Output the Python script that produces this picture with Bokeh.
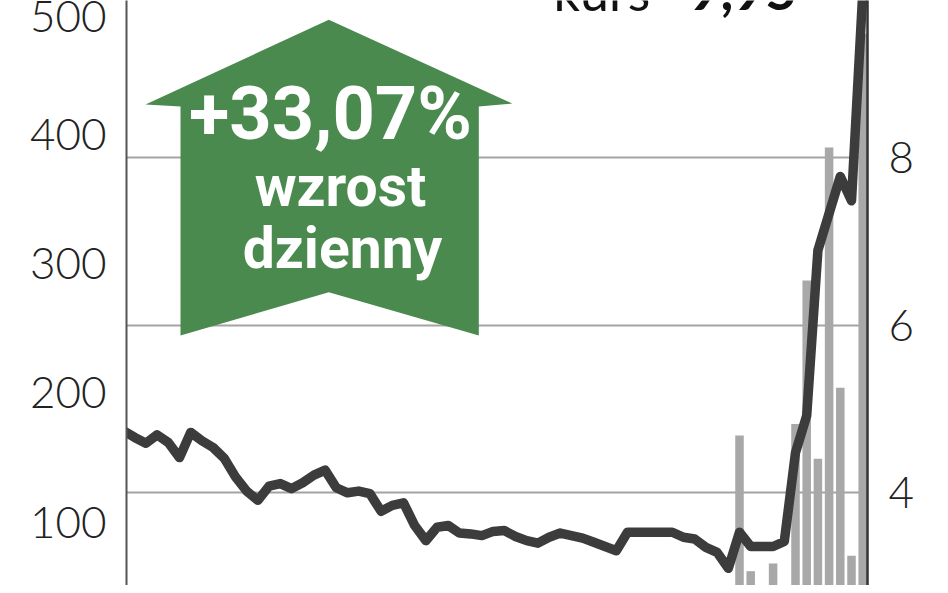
from bokeh.plotting import figure
from bokeh.models import Range1d, LinearAxis, FixedTicker, Label, ColumnDataSource
from bokeh.embed import file_html
from bokeh.resources import INLINE

# ---------------- data ----------------
days = list(range(67))
price = [4.74, 4.66, 4.59, 4.69, 4.60, 4.42, 4.72, 4.62, 4.54, 4.41,
         4.19, 4.02, 3.91, 4.08, 4.11, 4.05, 4.12, 4.21, 4.27, 4.06,
         4.00, 4.02, 3.99, 3.78, 3.85, 3.88, 3.61, 3.43, 3.59, 3.61,
         3.52, 3.51, 3.49, 3.54, 3.55, 3.48, 3.43, 3.40, 3.47, 3.52,
         3.49, 3.46, 3.41, 3.36, 3.31, 3.53, 3.53, 3.53, 3.53, 3.53,
         3.47, 3.45, 3.35, 3.29, 3.10, 3.53, 3.36, 3.36, 3.36, 3.42,
         4.48, 4.92, 6.89, 7.33, 7.77, 7.48, 9.95]
vol_days = [55, 56, 57, 58, 59, 60, 61, 62, 63, 64, 65, 66]
volume = [167, 62, 30, 68, 30, 176, 287, 149, 390, 204, 74, 478]
left_ticks = [100, 200, 300, 400, 500]
right_ticks = [4, 6, 8, 10]
change_text = "+33,07%"
change_words = ["wzrost", "dzienny"]
kurs_word = "kurs"
kurs_value = "9,95"

# ---------------- layout helpers (pixel -> data) ----------------
X0_PX, DAY_PX = 123.0, 11.2
VOL0_PX, VOL_PX = 650.8, 1.292
P8_PX, P_PX = 156.7, 83.9
W, H = 940, 585
FRAME_L, FRAME_R = 126, 867
AXIS_FONT = "Lato Light, Lato"


def dx(px):
    return (px - X0_PX) / DAY_PX


def dv(py):
    return (VOL0_PX - py) / VOL_PX


def dp(py):
    return 8 - (py - P8_PX) / P_PX


BASE_SHIFT = 0.34  # label baseline correction, in em


p = figure(width=W, height=H, output_backend="svg", toolbar_location=None,
           x_axis_location=None, y_axis_location="right",
           x_range=Range1d(dx(FRAME_L), dx(FRAME_R)),
           y_range=Range1d(dp(H), dp(0)),
           min_border_left=FRAME_L, min_border_right=W - FRAME_R,
           min_border_top=0, min_border_bottom=0,
           background_fill_color="white", border_fill_color="white")
p.outline_line_color = None
p.extra_y_ranges = {"vol": Range1d(dv(H), dv(0))}

# grid (tied to the right/price axis)
p.xgrid.visible = False
p.ygrid.ticker = FixedTicker(ticks=right_ticks)
p.ygrid.grid_line_color = "#a3a3a3"
p.ygrid.grid_line_width = 2

# right axis (price)
ra = p.yaxis[0]
ra.ticker = FixedTicker(ticks=right_ticks)
ra.axis_line_color = "#333333"
ra.axis_line_width = 2.5
ra.major_tick_line_color = None
ra.minor_tick_line_color = None
ra.major_label_standoff = 15
ra.major_label_text_font = AXIS_FONT
ra.major_label_text_font_size = "44px"
ra.major_label_text_color = "#222222"

# left axis (volume)
la = LinearAxis(y_range_name="vol", ticker=FixedTicker(ticks=left_ticks))
la.axis_line_color = "#555555"
la.axis_line_width = 2
la.major_tick_line_color = None
la.minor_tick_line_color = None
la.major_label_standoff = 14
la.major_label_text_font = AXIS_FONT
la.major_label_text_font_size = "44px"
la.major_label_text_color = "#222222"
p.add_layout(la, "left")

# volume bars
vsrc = ColumnDataSource(dict(x=vol_days, top=volume))
p.vbar(x="x", top="top", bottom=0, width=0.76, source=vsrc,
       y_range_name="vol", fill_color="#a8a8a8", line_color=None)

# green arrow
arrow_px = [(328.3, 19.3), (511.7, 103), (478.3, 106), (478.3, 335),
            (328.3, 291.7), (180, 335), (180, 106), (145, 104)]
p.patch([dx(a) for a, b in arrow_px], [dv(b) for a, b in arrow_px],
        y_range_name="vol", fill_color="#4a8a4e", line_color=None)

# price line
psrc = ColumnDataSource(dict(x=days, y=price))
p.line(x="x", y="y", source=psrc, line_color="#3c3c3c", line_width=9.5,
       line_join="round", line_cap="round")


def add_label(text, cx, base_py, size, align="center", bold=True,
              color="white", font="Roboto"):
    yy = dv(base_py - BASE_SHIFT * size)
    p.add_layout(Label(x=dx(cx), y=yy, y_range_name="vol", text=text,
                       text_align=align, text_baseline="alphabetic",
                       text_font=font,
                       text_font_style="bold" if bold else "normal",
                       text_font_size=f"{size}px", text_color=color))


# arrow texts
add_label(change_text, 330, 138, 74)
add_label(change_words[0], 340, 205, 57)
add_label(change_words[1], 342, 267, 57)

# cut-off price heading at top
add_label(kurs_word, 553, 8, 52, align="left", bold=False, color="#111111", font="Lato")
add_label(kurs_value, 688, 8, 55, align="left", bold=True, color="#111111", font="Lato")

open("out.html", "w").write(file_html(p, INLINE))
